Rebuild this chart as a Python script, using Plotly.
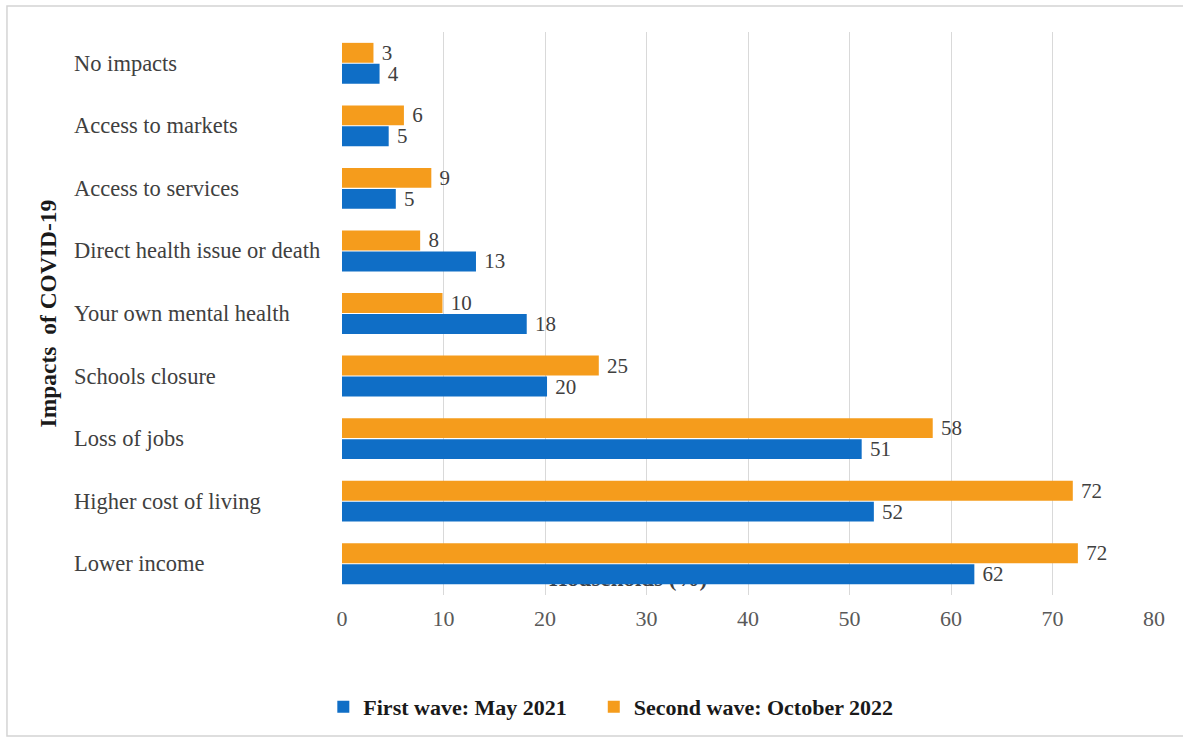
import plotly.graph_objects as go

# Categories listed bottom-to-top (as drawn on the y axis)
categories = [
    "Lower income",
    "Higher cost of living",
    "Loss of jobs",
    "Schools closure",
    "Your own mental health",
    "Direct health issue or death",
    "Access to services",
    "Access to markets",
    "No impacts",
]
first_wave = [62.3, 52.4, 51.2, 20.2, 18.2, 13.2, 5.3, 4.6, 3.7]
first_labels = ["62", "52", "51", "20", "18", "13", "5", "5", "4"]
second_wave = [72.5, 72.0, 58.2, 25.3, 9.9, 7.7, 8.8, 6.1, 3.1]
second_labels = ["72", "72", "58", "25", "10", "8", "9", "6", "3"]
x_ticks = [0, 10, 20, 30, 40, 50, 60, 70, 80]

SERIF = "Liberation Serif, Times New Roman, serif"
BLUE = "#0F6EC6"
ORANGE = "#F59C1C"
NBSP = "\u00a0"

fig = go.Figure()

# Axis title drawn on the base subplot so the bars (overlay subplot) cover it
fig.add_trace(go.Scatter(
    x=[28.2], y=[-0.27], mode="text", text=["<b>Households (%)</b>"],
    textfont=dict(family=SERIF, size=23, color="#404040"),
    xaxis="x", yaxis="y", showlegend=False, hoverinfo="skip",
))

fig.add_trace(go.Bar(
    name="<b>First wave: May 2021</b>" + NBSP * 4, orientation="h",
    y=categories, x=first_wave, text=[NBSP + t for t in first_labels],
    textposition="outside", cliponaxis=False, constraintext="none",
    textfont=dict(family=SERIF, size=21, color="#404040"),
    marker=dict(color=BLUE, line=dict(width=0)),
    xaxis="x", yaxis="y2",
))
fig.add_trace(go.Bar(
    name="<b>Second wave: October 2022</b>", orientation="h",
    y=categories, x=second_wave, text=[NBSP + t for t in second_labels],
    textposition="outside", cliponaxis=False, constraintext="none",
    textfont=dict(family=SERIF, size=21, color="#404040"),
    marker=dict(color=ORANGE, line=dict(width=0)),
    xaxis="x", yaxis="y2",
))

annotations = []
for c in categories:
    annotations.append(dict(
        x=-0.3325, xref="paper", y=c, yref="y2", text=c, showarrow=False,
        xanchor="left", yanchor="middle",
        font=dict(family=SERIF, size=22.5, color="#404040"),
    ))
annotations.append(dict(
    x=-0.3633, xref="paper", y=0.5, yref="paper",
    text="<b>Impacts  of COVID-19</b>", textangle=-90, showarrow=False,
    xanchor="center", yanchor="middle",
    font=dict(family=SERIF, size=23.5, color="#1a1a1a"),
))

fig.update_layout(
    width=1183, height=740,
    margin=dict(l=342, r=29, t=32, b=145),
    paper_bgcolor="white", plot_bgcolor="white",
    barmode="group", bargap=0.33, bargroupgap=0.05,
    xaxis=dict(
        range=[0, 80], tickmode="array", tickvals=x_ticks,
        showgrid=True, gridcolor="#D9D9D9", gridwidth=1,
        zeroline=False, showline=False,
        ticks="outside", ticklen=4, tickcolor="rgba(0,0,0,0)",
        tickfont=dict(family=SERIF, size=22, color="#595959"),
    ),
    yaxis=dict(range=[-0.5, 8.5], visible=False, fixedrange=True),
    yaxis2=dict(
        type="category", categoryorder="array", categoryarray=categories,
        overlaying="y", range=[-0.5, 8.5], showticklabels=False,
        showgrid=False, zeroline=False, showline=False,
    ),
    legend=dict(
        orientation="h", x=-0.023, xanchor="left", y=-0.199, yanchor="middle",
        font=dict(family=SERIF, size=22, color="#1a1a1a"),
        bgcolor="rgba(0,0,0,0)",
    ),
    annotations=annotations,
    shapes=[dict(
        type="rect", xref="paper", yref="paper",
        x0=-0.4126, x1=1.044, y0=-0.2504, y1=1.0462,
        line=dict(color="#D4D4D4", width=1.5), layer="below",
    )],
    showlegend=True,
)

fig.write_html("out.html")
